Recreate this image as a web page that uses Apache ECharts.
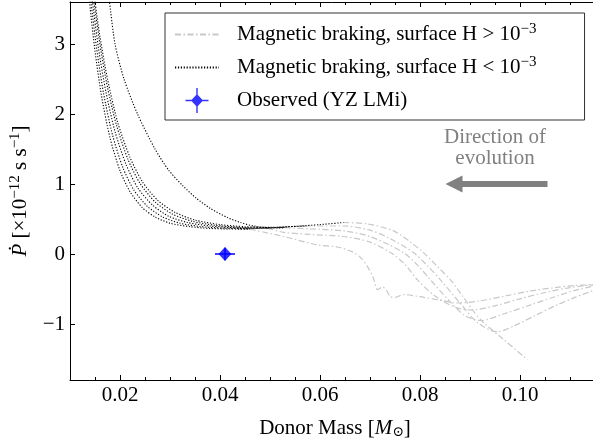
<!DOCTYPE html>
<html><head><meta charset="utf-8">
<script src="https://cdn.jsdelivr.net/npm/echarts@6/dist/echarts.min.js"></script>
<style>html,body{margin:0;padding:0;background:#fff}#c{width:593px;height:438px}</style>
</head><body><div id="c"></div>
<script>
// ---- tick values ----
const xMajorTicks = [0.02, 0.04, 0.06, 0.08, 0.10];
const xMinorTicks = [0.015, 0.025, 0.03, 0.035, 0.045, 0.05, 0.055, 0.065, 0.07, 0.075, 0.085, 0.09, 0.095, 0.105, 0.11, 0.115];
const yMajorTicks = [-1, 0, 1, 2, 3];

// ---- series names ----
const nameHigh = 'Magnetic braking, surface H > 10^-3';
const nameLow = 'Magnetic braking, surface H < 10^-3';
const nameObs = 'Observed (YZ LMi)';

// ---- black dotted tracks (surface H < 1e-3): [mass, Pdot] ----
const blackTrack1 = [[0.0133,4.06],[0.0139,3.6],[0.0150,2.90],[0.0163,2.26],[0.0180,1.66],[0.0200,1.19],[0.0220,0.89],[0.0245,0.66],[0.0270,0.53],[0.0300,0.44],[0.0340,0.39],[0.0380,0.365],[0.0420,0.357],[0.0460,0.355]];
const blackTrack2 = [[0.0136,4.02],[0.0142,3.6],[0.0153,2.95],[0.0167,2.30],[0.0185,1.70],[0.0206,1.23],[0.0228,0.91],[0.0255,0.68],[0.0285,0.53],[0.0320,0.44],[0.0360,0.393],[0.0405,0.37],[0.0450,0.362],[0.0495,0.37]];
const blackTrack3 = [[0.0139,3.99],[0.0145,3.6],[0.0157,2.94],[0.0172,2.31],[0.0190,1.75],[0.0212,1.28],[0.0236,0.94],[0.0265,0.70],[0.0297,0.54],[0.0335,0.45],[0.0380,0.40],[0.0430,0.375],[0.0480,0.368],[0.0530,0.375]];
const blackTrack4 = [[0.0142,3.96],[0.0148,3.6],[0.0160,2.99],[0.0175,2.38],[0.0193,1.84],[0.0216,1.35],[0.0240,1.01],[0.0270,0.745],[0.0305,0.57],[0.0345,0.467],[0.0390,0.41],[0.0440,0.38],[0.0490,0.374],[0.0540,0.39],[0.0570,0.40]];
const blackTrack5 = [[0.0144,3.94],[0.0150,3.6],[0.0160,3.10],[0.0175,2.50],[0.0195,1.89],[0.0220,1.38],[0.0245,1.03],[0.0275,0.77],[0.0310,0.595],[0.0350,0.485],[0.0400,0.42],[0.0450,0.39],[0.0500,0.38],[0.0550,0.395],[0.0600,0.42],[0.0647,0.45]];
const blackTrack6 = [[0.0172,4.0],[0.0179,3.6],[0.0190,3.0],[0.0208,2.5],[0.0235,2.0],[0.0270,1.5],[0.0297,1.2],[0.0325,0.98],[0.0352,0.80],[0.0381,0.65],[0.0415,0.52],[0.0441,0.45],[0.0467,0.40],[0.0500,0.375],[0.0530,0.38]];

// ---- grey dash-dot tracks (surface H > 1e-3): [mass, Pdot] ----
const greyTrack1 = [[0.0460,0.355],[0.0527,0.25],[0.0595,0.13],[0.0635,0.10],[0.0665,0.03],[0.0681,-0.05],[0.0695,-0.18],[0.0707,-0.35],[0.0715,-0.51],[0.0725,-0.47],[0.0733,-0.52],[0.0741,-0.61],[0.0750,-0.62],[0.0767,-0.58],[0.0800,-0.61],[0.0840,-0.66],[0.0875,-0.70],[0.0920,-0.67],[0.0970,-0.60],[0.1020,-0.53],[0.1070,-0.48],[0.1110,-0.45],[0.1147,-0.44]];
const greyTrack2 = [[0.0495,0.37],[0.0527,0.31],[0.0580,0.28],[0.0647,0.25],[0.0700,0.17],[0.0741,0.02],[0.0770,-0.15],[0.0795,-0.37],[0.0830,-0.60],[0.0870,-0.76],[0.0901,-0.80],[0.0950,-0.74],[0.1000,-0.64],[0.1050,-0.55],[0.1100,-0.48],[0.1147,-0.44]];
const greyTrack3 = [[0.0530,0.375],[0.0580,0.36],[0.0647,0.33],[0.0700,0.25],[0.0767,0.02],[0.0795,-0.16],[0.0821,-0.37],[0.0860,-0.68],[0.0890,-0.88],[0.0921,-0.95],[0.0970,-0.85],[0.1020,-0.73],[0.1070,-0.61],[0.1110,-0.52],[0.1147,-0.46]];
const greyTrack4 = [[0.0570,0.40],[0.0647,0.40],[0.0700,0.34],[0.0740,0.22],[0.0787,0.02],[0.0815,-0.17],[0.0841,-0.37],[0.0880,-0.70],[0.0915,-0.98],[0.0955,-1.11],[0.0990,-1.02],[0.1030,-0.88],[0.1070,-0.74],[0.1110,-0.62],[0.1147,-0.52]];
const greyTrack5 = [[0.0647,0.45],[0.0695,0.43],[0.0747,0.33],[0.0781,0.17],[0.0807,0.02],[0.0835,-0.18],[0.0861,-0.37],[0.0885,-0.60],[0.0905,-0.80],[0.0927,-0.98],[0.0967,-1.22],[0.1015,-1.51]];

// ---- observation ----
const obsMass = [0.041];
const obsPdot = [0.0];
const obsMassErr = [0.002];
const obsPdotErr = [0.09];

// ---- annotation anchor (data units) ----
const arrowTail = [0.1055, 1.0];
const arrowTip = [0.0851, 1.0];
const noteLine1 = [0.0950, 1.66];
const noteLine2 = [0.0950, 1.37];

const FONT = "'Liberation Serif','DejaVu Serif',serif";
const FS = 21;
const chart = echarts.init(document.getElementById('c'), null, {renderer: 'canvas'});

const blackTracks = [blackTrack1, blackTrack2, blackTrack3, blackTrack4, blackTrack5, blackTrack6];
const greyTracks = [greyTrack1, greyTrack2, greyTrack3, greyTrack4, greyTrack5];

const series = [];
greyTracks.forEach(d => series.push({
  name: nameHigh, type: 'line', data: d, symbol: 'none', showSymbol: false, smooth: 0.3, z: 2,
  lineStyle: {color: '#c8c8c8', width: 1.2, type: [6, 2.5, 1.5, 2.5]},
  itemStyle: {color: '#c8c8c8'}, emphasis: {disabled: true}, xAxisIndex: 0, yAxisIndex: 0
}));
blackTracks.forEach(d => series.push({
  name: nameLow, type: 'line', data: d, symbol: 'none', showSymbol: false, smooth: 0.25, z: 3,
  lineStyle: {color: '#000', width: 1.1, type: [1.2, 1.7]},
  itemStyle: {color: '#000'}, emphasis: {disabled: true}, xAxisIndex: 0, yAxisIndex: 0
}));
const obsData = obsMass.map((m, i) => [m, obsPdot[i]]);
const obsErrData = obsMass.map((m, i) => [m, obsPdot[i], obsMassErr[i], obsPdotErr[i]]);
series.push({
  name: 'obs-err', type: 'custom', z: 4, data: obsErrData, encode: {x: 0, y: 1},
  renderItem: function (params, api) {
    const x = api.value(0), y = api.value(1), ex = api.value(2), ey = api.value(3);
    const a = api.coord([x - ex, y]), b = api.coord([x + ex, y]);
    const c = api.coord([x, y - ey]), d = api.coord([x, y + ey]);
    return {type: 'group', children: [
      {type: 'line', shape: {x1: a[0], y1: a[1], x2: b[0], y2: b[1]}, style: {stroke: '#0000ff', lineWidth: 1.5}},
      {type: 'line', shape: {x1: c[0], y1: c[1], x2: d[0], y2: d[1]}, style: {stroke: '#0000ff', lineWidth: 1.5}}
    ]};
  }
});
series.push({
  name: nameObs, type: 'scatter', data: obsData, symbol: 'diamond', symbolSize: [13, 14], z: 5,
  itemStyle: {color: '#0000ff'}, emphasis: {disabled: true}
});

function legendFmt(name) {
  if (name === nameHigh) return '{t|Magnetic braking, surface H > 10}{sup|−3}';
  if (name === nameLow) return '{t|Magnetic braking, surface H < 10}{sup|−3}';
  return '{t|' + name + '}';
}

const baseTick = {show: true, inside: true, lineStyle: {color: '#000', width: 1}};
const option = {
  animation: false,
  backgroundColor: '#fff',
  grid: {left: 70, right: -7, top: 2, bottom: 58, containLabel: false, outerBoundsMode: 'none'},
  xAxis: [
    {type: 'value', position: 'bottom', min: 0.01, max: 0.116,
     axisLine: {show: true, onZero: false, lineStyle: {color: '#000', width: 1}},
     axisTick: Object.assign({}, baseTick, {length: 5, customValues: xMajorTicks}),
     axisLabel: {show: true, customValues: xMajorTicks, margin: 5, color: '#000', fontSize: FS, fontFamily: FONT,
                 formatter: v => v.toFixed(2)},
     splitLine: {show: false},
     name: 'Donor Mass [{i|M}{sub|⊙}]', nameLocation: 'middle', nameGap: 37,
     nameTextStyle: {color: '#000', fontSize: FS, fontFamily: FONT,
       rich: {i: {fontStyle: 'italic', fontSize: FS, fontFamily: FONT, color: '#000'},
              sub: {fontSize: 14, fontFamily: FONT, color: '#000', verticalAlign: 'bottom', padding: [8, 0, 0, 0]}}}},
    {type: 'value', position: 'bottom', min: 0.01, max: 0.116,
     axisLine: {show: false, onZero: false},
     axisTick: Object.assign({}, baseTick, {length: 3, customValues: xMinorTicks}),
     axisLabel: {show: false}, splitLine: {show: false}},
    {type: 'value', position: 'top', min: 0.01, max: 0.116,
     axisLine: {show: true, onZero: false, lineStyle: {color: '#000', width: 1}},
     axisTick: Object.assign({}, baseTick, {length: 5, customValues: xMajorTicks}),
     axisLabel: {show: false}, splitLine: {show: false}},
    {type: 'value', position: 'top', min: 0.01, max: 0.116,
     axisLine: {show: false, onZero: false},
     axisTick: Object.assign({}, baseTick, {length: 3, customValues: xMinorTicks}),
     axisLabel: {show: false}, splitLine: {show: false}}
  ],
  yAxis: [
    {type: 'value', position: 'left', min: -1.8, max: 3.6,
     axisLine: {show: true, onZero: false, lineStyle: {color: '#000', width: 1}},
     axisTick: Object.assign({}, baseTick, {length: 5, customValues: yMajorTicks}),
     axisLabel: {show: true, customValues: yMajorTicks, margin: 5, color: '#000', fontSize: FS, fontFamily: FONT,
                 formatter: v => (v < 0 ? '−' + Math.abs(v) : String(v))},
     splitLine: {show: false},
     name: '{i|Ṗ} {t|[×10}{sup|−12}{t| s s}{sup|−1}{t|]}', nameLocation: 'middle', nameGap: 37, nameRotate: 90,
     nameTextStyle: {color: '#000', fontSize: FS, fontFamily: FONT,
       rich: {i: {fontStyle: 'italic', fontSize: FS, fontFamily: FONT, color: '#000', lineHeight: 25},
              t: {fontSize: FS, fontFamily: FONT, color: '#000', lineHeight: 25},
              sup: {fontSize: 15, fontFamily: FONT, color: '#000', verticalAlign: 'top', lineHeight: 15}}}},
    {type: 'value', position: 'right', min: -1.8, max: 3.6,
     axisLine: {show: true, onZero: false, lineStyle: {color: '#000', width: 1}},
     axisTick: Object.assign({}, baseTick, {length: 5, customValues: yMajorTicks}),
     axisLabel: {show: false}, splitLine: {show: false}}
  ],
  legend: {
    show: true, orient: 'vertical', left: 165, top: 13,
    padding: [9, 48, 7, 9], itemGap: 10, itemWidth: 44, itemHeight: 25,
    borderColor: '#333', borderWidth: 1, borderRadius: 0, backgroundColor: '#fff',
    selectedMode: false, symbolKeepAspect: true,
    data: [
      {name: nameHigh, itemStyle: {opacity: 0}},
      {name: nameLow, itemStyle: {opacity: 0}},
      {name: nameObs, icon: 'path://M0,11.8L23,11.8L23,13.2L0,13.2Z M10.8,0L12.2,0L12.2,25L10.8,25Z M11.5,6L17.5,12.5L11.5,19L5.5,12.5Z'}
    ],
    formatter: legendFmt,
    textStyle: {color: '#000', fontSize: FS, fontFamily: FONT, padding: [0, 0, 0, 13],
      rich: {t: {fontSize: FS, fontFamily: FONT, color: '#000', lineHeight: 25},
             sup: {fontSize: 15, fontFamily: FONT, color: '#000', verticalAlign: 'top', lineHeight: 15}}}
  },
  series: series
};
chart.setOption(option);

// annotation: direction of evolution, positioned via the chart's own scales
const tail = chart.convertToPixel({gridIndex: 0}, arrowTail);
const tip = chart.convertToPixel({gridIndex: 0}, arrowTip);
const t1 = chart.convertToPixel({gridIndex: 0}, noteLine1);
const t2 = chart.convertToPixel({gridIndex: 0}, noteLine2);
const halfShaft = 3, headLen = 17, halfHead = 8.5;
chart.setOption({
  graphic: [
    {type: 'polygon', z: 10, shape: {points: [
      [tail[0], tail[1] - halfShaft], [tip[0] + headLen, tail[1] - halfShaft], [tip[0] + headLen, tip[1] - halfHead],
      [tip[0], tip[1]], [tip[0] + headLen, tip[1] + halfHead], [tip[0] + headLen, tail[1] + halfShaft], [tail[0], tail[1] + halfShaft]
    ]}, style: {fill: '#808080'}},
    {type: 'text', z: 10, x: t1[0], y: t1[1], style: {text: 'Direction of', fill: '#808080', font: FS + 'px ' + FONT, align: 'center', verticalAlign: 'middle'}},
    {type: 'text', z: 10, x: t2[0], y: t2[1], style: {text: 'evolution', fill: '#808080', font: FS + 'px ' + FONT, align: 'center', verticalAlign: 'middle'}}
  ]
});
</script></body></html>
